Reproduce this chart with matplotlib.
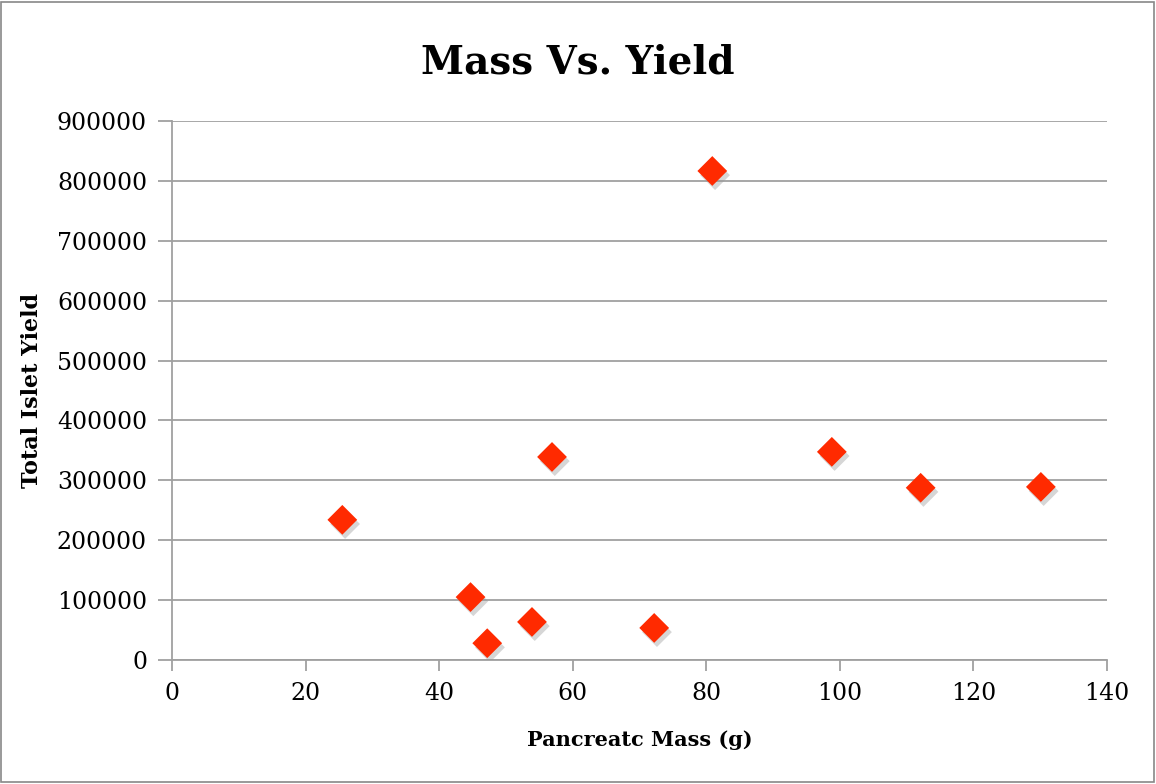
import matplotlib
matplotlib.use("Agg")
import matplotlib.pyplot as plt
import matplotlib.patheffects as pe
from matplotlib.patches import Rectangle

mass = [25.5, 44.7, 47.2, 53.9, 56.9, 72.2, 80.9, 98.8, 112.1, 130.1]
yield_ = [234000, 105000, 28000, 63500, 339000, 53500, 816500, 347500, 287500, 289000]

serif = ['DejaVu Serif']
plt.rcParams['font.family'] = serif

fig = plt.figure(figsize=(11.56, 7.84), dpi=100)
ax = fig.add_axes([0.1488, 0.1582, 0.8088, 0.6875])

grid_c = '#a0a0a0'
ax.scatter(mass, yield_, marker='D', s=230, color='#ff2a00', zorder=3, linewidths=0,
           path_effects=[pe.SimplePatchShadow(offset=(2, -3), shadow_rgbFace='#999999', alpha=0.4), pe.Normal()])

ax.set_xlim(0, 140)
ax.set_ylim(0, 900000)
ax.set_xticks(range(0, 141, 20))
ax.set_yticks(range(0, 900001, 100000))
ax.yaxis.grid(True, color=grid_c, linewidth=1.3)
ax.set_axisbelow(True)
for s in ['top', 'right']:
    ax.spines[s].set_visible(False)
for s in ['left', 'bottom']:
    ax.spines[s].set_color(grid_c)
    ax.spines[s].set_linewidth(1.3)
ax.tick_params(axis='both', colors=grid_c, labelcolor='black', labelsize=17, width=1.3)
ax.tick_params(axis='y', length=10, pad=8)
ax.tick_params(axis='x', length=8, pad=8)

fig.suptitle('Mass Vs. Yield', x=0.5, y=0.945, fontsize=28, fontweight='bold', va='top')
ax.set_xlabel('Pancreatc Mass (g)', fontsize=15, fontweight='bold', labelpad=18)
ax.set_ylabel('Total Islet Yield', fontsize=16, fontweight='bold', labelpad=10)

fig.patches.append(Rectangle((0.001, 0.002), 0.997, 0.996, transform=fig.transFigure,
                             fill=False, edgecolor='#888888', linewidth=1.2))

fig.savefig('out.png', dpi=100)
